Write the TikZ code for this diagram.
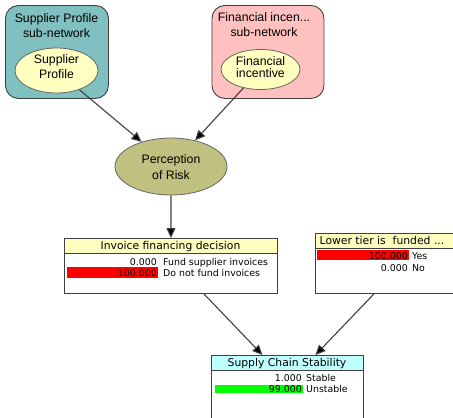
\documentclass[tikz,border=0pt]{standalone}
\usepackage{fontspec}
\setmainfont{Liberation Sans}
\newfontfamily\tabfont{DejaVu Sans}
\usetikzlibrary{shapes.geometric,arrows.meta}
\definecolor{tealbox}{HTML}{80C0C0}
\definecolor{pinkbox}{HTML}{FFC0C0}
\definecolor{lyel}{HTML}{FFFFC0}
\definecolor{olivenode}{HTML}{C0C080}
\definecolor{lcyan}{HTML}{C0FFFF}
\definecolor{edgecol}{HTML}{404040}
\tikzset{
  subbox/.style={draw=black!75, line width=0.9pt, rounded corners=13pt, inner sep=0pt, anchor=north west},
  innerell/.style={ellipse, draw=black!60, line width=0.8pt, fill=lyel, inner sep=0pt},
  lbl/.style={anchor=base, inner sep=0pt, font=\fontsize{12.3}{14}\selectfont},
  link/.style={draw=edgecol, line width=1.1pt, -{Triangle[length=10pt,width=9pt,fill=black]}},
  tbox/.style={draw=black!75, line width=0.9pt, inner sep=0pt, anchor=north west, fill=white},
  thead/.style={draw=black!75, line width=0.9pt, inner sep=0pt, anchor=north west},
  htext/.style={anchor=base, inner sep=0pt, font=\tabfont\fontsize{10.8}{12}\selectfont},
  num/.style={anchor=base east, inner sep=0pt, font=\tabfont\fontsize{9.4}{11}\selectfont},
  stname/.style={anchor=base west, inner sep=0pt, font=\tabfont\fontsize{9.4}{11}\selectfont},
  bar/.style={inner sep=0pt, anchor=north west, draw=none}
}
\begin{document}
\begin{tikzpicture}[x=1pt,y=-1pt]
\useasboundingbox (0,0) rectangle (453,418);
\clip (0,0) rectangle (453,418);
\fill[white] (0,0) rectangle (453,418);

% Supplier Profile sub-network
\node[subbox, fill=tealbox, minimum width=103pt, minimum height=93pt] (spbox) at (5,5) {};
\node[lbl] (spt1) at (56.5,22.5) {Supplier Profile};
\node[lbl] (spt2) at (56.5,37.5) {sub-network};
\node[innerell, minimum width=83pt, minimum height=45pt] (sp) at (56.5,70.5) {};
\node[lbl] (spe1) at (56.5,63.5) {Supplier};
\node[lbl] (spe2) at (56.5,78) {Profile};

% Financial incentive sub-network
\node[subbox, fill=pinkbox, minimum width=112pt, minimum height=93pt] (fibox) at (211.5,5) {};
\node[lbl] (fit1) at (264,21) {Financial incen...};
\node[lbl] (fit2) at (264,36.5) {sub-network};
\node[innerell, minimum width=79pt, minimum height=40pt] (fi) at (260.5,69.5) {};
\node[lbl] (fie1) at (260.5,65) {Financial};
\node[lbl] (fie2) at (260.5,77.5) {incentive};

% Perception of Risk
\node[ellipse, draw=black!60, line width=0.8pt, fill=olivenode, inner sep=0pt, minimum width=112pt, minimum height=57pt] (per) at (171,166.5) {};
\node[lbl] (pert1) at (171,163.5) {Perception};
\node[lbl] (pert2) at (171,179) {of Risk};

% Invoice financing decision
\node[tbox, minimum width=213pt, minimum height=55pt] (inv) at (64,238) {};
\node[thead, fill=lyel, minimum width=213pt, minimum height=15pt] (invh) at (64,238) {};
\node[htext] (invht) at (170.5,249.5) {Invoice financing decision};
\node[bar, fill=red, minimum width=91pt, minimum height=10.5pt] (invbar) at (67,267) {};
\node[num] (inv1n) at (157,265.5) {0.000};
\node[stname] (inv1s) at (163,265.5) {Fund supplier invoices};
\node[num] (inv2n) at (157,276.5) {100.000};
\node[stname] (inv2s) at (163,276.5) {Do not fund invoices};

% Lower tier is funded
\node[tbox, minimum width=141pt, minimum height=60pt] (low) at (315,233) {};
\node[thead, fill=lyel, minimum width=141pt, minimum height=15pt] (lowh) at (315,233) {};
\node[htext, anchor=base west] (lowht) at (319.5,244.5) {Lower tier is\ \ funded ...};
\node[bar, fill=red, minimum width=92pt, minimum height=9.5pt] (lowbar) at (317,250) {};
\node[num] (low1n) at (408,259.5) {100.000};
\node[stname] (low1s) at (412,259.5) {Yes};
\node[num] (low2n) at (408,271.5) {0.000};
\node[stname] (low2s) at (412,271.5) {No};

% Supply Chain Stability
\node[tbox, minimum width=152pt, minimum height=70pt] (sup) at (211,355) {};
\node[thead, fill=lcyan, minimum width=152pt, minimum height=15pt] (suph) at (211,355) {};
\node[htext] (supht) at (287,366.5) {Supply Chain Stability};
\node[bar, fill=green, minimum width=88pt, minimum height=8pt] (supbar) at (215,385) {};
\node[num] (sup1n) at (302,381.5) {1.000};
\node[stname] (sup1s) at (306,381.5) {Stable};
\node[num] (sup2n) at (302,392.5) {99.000};
\node[stname] (sup2s) at (306,392.5) {Unstable};

% Connectors
\draw[link] (sp) -- (per);
\draw[link] (fi) -- (per);
\draw[link] (per) -- (invh);
\draw[link] ([xshift=33pt]inv.south) -- ([xshift=-25pt]suph.north);
\draw[link] ([xshift=-12pt]low.south) -- ([xshift=28pt]suph.north);
\end{tikzpicture}
\end{document}
